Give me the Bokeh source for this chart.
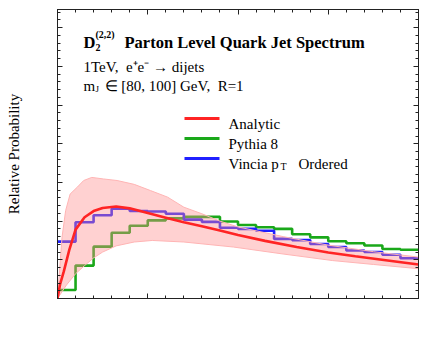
from bokeh.plotting import figure
from bokeh.models import (Range1d, LinearAxis, SingleIntervalTicker, CustomJSTickFormatter,
                          Label, Arrow)
from bokeh.embed import file_html
from bokeh.resources import INLINE

# ---------------- data ----------------
bin_edges = [0.0, 0.2, 0.4, 0.6, 0.8, 1.0, 1.2, 1.4, 1.6, 1.8, 2.0,
             2.2, 2.4, 2.6, 2.8, 3.0, 3.2, 3.4, 3.6, 3.8, 4.0]
pythia8 = [0.022, 0.085, 0.134, 0.170, 0.188, 0.202, 0.207, 0.211, 0.211, 0.199,
           0.190, 0.184, 0.180, 0.166, 0.158, 0.148, 0.143, 0.137, 0.128, 0.126]
vincia = [0.147, 0.197, 0.215, 0.232, 0.226, 0.225, 0.219, 0.204, 0.198, 0.183,
          0.180, 0.175, 0.154, 0.151, 0.141, 0.133, 0.124, 0.120, 0.113, 0.104]

analytic_x = [0.0, 0.03, 0.07, 0.13, 0.2, 0.3, 0.4, 0.5, 0.65, 0.8, 1.0, 1.2, 1.4,
              1.6, 1.8, 2.0, 2.3, 2.65, 3.0, 3.3, 3.7, 4.0]
analytic_y = [0.0, 0.038, 0.07, 0.125, 0.178, 0.21, 0.226, 0.234, 0.238, 0.233, 0.221,
              0.209, 0.197, 0.187, 0.176, 0.164, 0.149, 0.133, 0.119, 0.109, 0.097, 0.088]

band_upper_x = [0.0, 0.05, 0.09, 0.14, 0.22, 0.29, 0.38, 0.51, 0.66, 0.85, 1.03, 1.22,
                1.4, 1.6, 1.8, 2.0, 2.5, 3.0, 3.5, 4.0]
band_upper_y = [0.0, 0.158, 0.227, 0.27, 0.288, 0.305, 0.313, 0.309, 0.305, 0.295, 0.279,
                0.262, 0.236, 0.219, 0.200, 0.185, 0.160, 0.138, 0.121, 0.107]
band_lower_x = [0.0, 0.1, 0.2, 0.3, 0.4, 0.5, 0.65, 0.85, 1.05, 1.4, 1.95, 2.5, 3.05, 3.5, 4.0]
band_lower_y = [0.0, 0.035, 0.064, 0.085, 0.105, 0.120, 0.136, 0.146, 0.150, 0.146, 0.133,
                0.115, 0.098, 0.088, 0.077]

x_tick_values = [0, 1, 2, 3, 4]
x_tick_labels = ["0", "1", "2", "3", "4"]
y_tick_values = [0.0, 0.1, 0.2, 0.3, 0.4, 0.5, 0.6, 0.7]
y_tick_labels = ["0.0", "0.1", "0.2", "0.3", "0.4", "0.5", "0.6", "0.7"]

series_names = ["Analytic", "Pythia 8", "Vincia p"]

SERIF = '"Liberation Serif", "Times New Roman", serif'
RED = "#ff2424"
GREEN = "#1aa81a"
BLUE = "#2020ff"

# ---------------- figure ----------------
W, H = 423, 348
BL, BR, BT, BB = 57, 5, 9, 50
X0, X1, Y0, Y1 = 0, 4, 0, 0.747
FW, FH = W - BL - BR, H - BT - BB
FL, FB = BL, H - BB  # frame left / bottom in canvas px

p = figure(width=W, height=H, x_range=Range1d(X0, X1), y_range=Range1d(Y0, Y1),
           output_backend="svg", toolbar_location=None,
           min_border_left=BL, min_border_right=BR, min_border_top=BT, min_border_bottom=BB,
           x_axis_location=None, y_axis_location=None)
p.xgrid.visible = False
p.ygrid.visible = False
p.outline_line_color = "#222222"
p.background_fill_color = "white"
p.border_fill_color = "white"

empty_fmt = CustomJSTickFormatter(code="return ''")


def style_axis(ax):
    ax.axis_line_color = "#222222"
    ax.major_tick_line_color = "#222222"
    ax.minor_tick_line_color = "#222222"
    ax.major_tick_in = 5
    ax.major_tick_out = 0
    ax.minor_tick_in = 3
    ax.minor_tick_out = 0
    ax.major_label_standoff = 0
    ax.major_label_text_font_size = "15px"


for loc in ["below", "above"]:
    ax = LinearAxis(ticker=SingleIntervalTicker(interval=1, num_minor_ticks=5),
                    formatter=empty_fmt)
    style_axis(ax)
    p.add_layout(ax, loc)
for loc in ["left", "right"]:
    ax = LinearAxis(ticker=SingleIntervalTicker(interval=0.1, num_minor_ticks=5),
                    formatter=empty_fmt)
    style_axis(ax)
    if loc == "left":
        ax.axis_label = "Relative Probability"
        ax.axis_label_text_font = SERIF
        ax.axis_label_text_font_size = "15px"
        ax.axis_label_text_font_style = "normal"
        ax.axis_label_text_color = "black"
        ax.axis_label_standoff = 36
    p.add_layout(ax, loc)


def sx(v):
    return (v - X0) / (X1 - X0) * FW


def sy(v):
    return (v - Y0) / (Y1 - Y0) * FH


# tick labels (serif), left-aligned with offsets that center / right-align them
for v, t in zip(x_tick_values, x_tick_labels):
    p.add_layout(Label(x=sx(v) - 3.75 * len(t), y=-17, x_units="screen", y_units="screen",
                       text=t, text_font=SERIF, text_font_size="15px", level="overlay",
                       text_align="left", text_baseline="alphabetic"))
for v, t in zip(y_tick_values, y_tick_labels):
    p.add_layout(Label(x=-24, y=sy(v) - 5, x_units="screen", y_units="screen",
                       text=t, text_font=SERIF, text_font_size="15px", level="overlay",
                       text_align="left", text_baseline="alphabetic"))

# histograms
p.step(x=bin_edges, y=pythia8 + [pythia8[-1]], mode="after",
       line_color=GREEN, line_width=2.6)
p.step(x=bin_edges, y=vincia + [vincia[-1]], mode="after",
       line_color=BLUE, line_width=2.6)

# uncertainty band
p.patch(x=band_upper_x + band_lower_x[::-1], y=band_upper_y + band_lower_y[::-1],
        fill_color="#ff8c8c", fill_alpha=0.4, line_color="#ffb4b4", line_width=1)

# analytic curve
p.line(x=analytic_x, y=analytic_y, line_color=RED, line_width=2.6)


def lab(cx, cy, text, size="15px", style="normal", color="black"):
    p.add_layout(Label(x=cx - FL, y=FB - cy, x_units="screen", y_units="screen",
                       text=text, text_font=SERIF, text_font_size=size,
                       text_font_style=style, text_color=color, level="overlay",
                       text_align="left", text_baseline="alphabetic"))


# legend (swatches + labels)
for i, (name, col) in enumerate(zip(series_names, [RED, GREEN, BLUE])):
    cy = 118 + 20 * i
    p.add_layout(Arrow(x_start=184 - FL, y_start=FB - cy, x_end=219 - FL, y_end=FB - cy,
                       start_units="screen", end_units="screen", start=None, end=None,
                       line_color=col, line_width=3))
    lab(228, cy + 5, name)
lab(280, 166, "T", size="10px")
lab(298, 163, "Ordered")

# title block
lab(83, 42, "D", size="16.5px", style="bold")
lab(95, 34, "(2,2)", size="10px", style="bold")
lab(95, 47, "2", size="10px", style="bold")
lab(124, 42, "Parton Level Quark Jet Spectrum", size="16.5px", style="bold")
lab(83, 66, "1TeV,\u00a0 e\u207ae\u207b \u2192 dijets")
lab(83, 85, "m")
lab(95, 88, "J", size="9px")
lab(104, 85, "\u2208 [80, 100] GeV,\u00a0 R=1")

# x axis label
lab(220, 344, "D", style="italic")
lab(234, 336, "(2,2)", size="10px")
lab(232, 351, "2", size="10px", style="italic")

open("out.html", "w").write(file_html(p, INLINE))
